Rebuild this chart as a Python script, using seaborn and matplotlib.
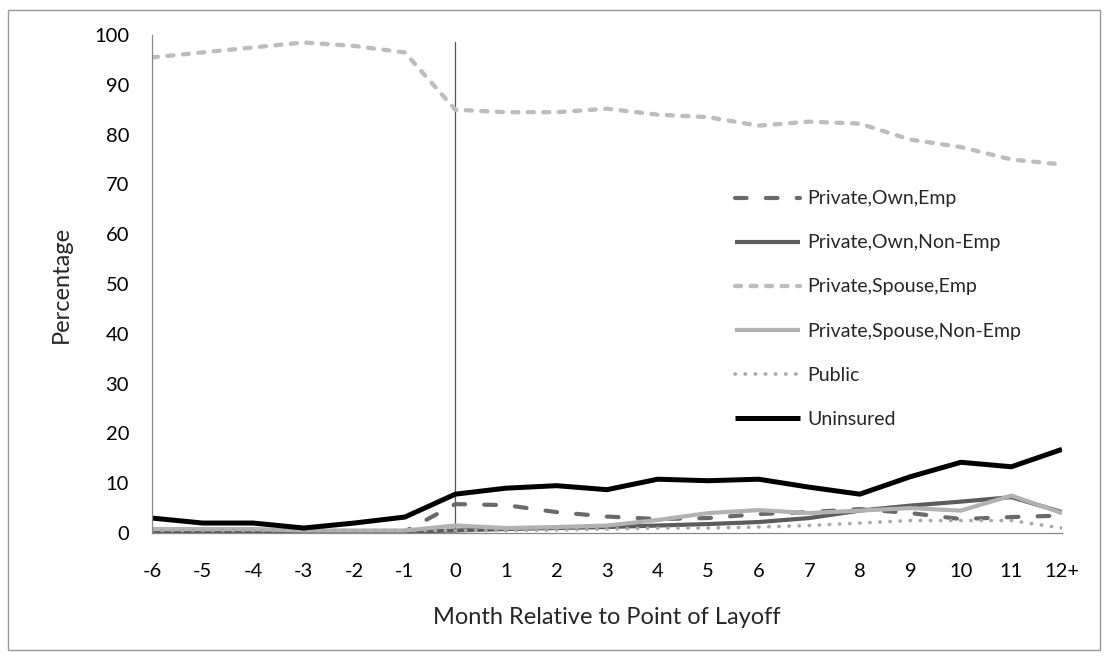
import matplotlib
matplotlib.use("Agg")
import matplotlib.pyplot as plt
import seaborn as sns
import pandas as pd
from matplotlib.patches import Rectangle

# Month labels and shares (%)
months = ["-6", "-5", "-4", "-3", "-2", "-1", "0", "1", "2", "3",
          "4", "5", "6", "7", "8", "9", "10", "11", "12+"]

own_emp = [0.2, 0.2, 0.2, 0.2, 0.3, 0.3, 5.8, 5.6, 4.2, 3.3,
           2.8, 3.0, 3.8, 4.2, 4.8, 4.0, 2.8, 3.2, 3.5]
own_nonemp = [0.3, 0.3, 0.3, 0.3, 0.3, 0.3, 0.5, 0.8, 1.0, 1.2,
              1.5, 1.8, 2.2, 3.0, 4.5, 5.5, 6.3, 7.2, 4.2]
spouse_emp = [95.5, 96.5, 97.5, 98.5, 97.8, 96.5, 85.0, 84.5, 84.5, 85.2,
              84.0, 83.5, 81.8, 82.6, 82.2, 79.0, 77.5, 75.0, 74.0]
spouse_nonemp = [0.8, 0.8, 0.8, 0.5, 0.5, 0.5, 1.5, 1.0, 1.2, 1.5,
                 2.6, 4.0, 4.6, 4.0, 4.5, 5.0, 4.5, 7.5, 4.0]
public = [0.5, 0.5, 0.5, 0.5, 0.5, 0.5, 0.5, 0.5, 0.6, 0.8,
          1.0, 1.0, 1.2, 1.5, 2.0, 2.5, 2.5, 2.5, 1.0]
uninsured = [3.0, 2.0, 2.0, 1.0, 2.0, 3.2, 7.8, 9.0, 9.5, 8.7,
             10.8, 10.5, 10.8, 9.2, 7.8, 11.3, 14.2, 13.3, 16.8]

series = [
    ("Private,Own,Emp", own_emp, "#6a6a6a", (0, (2.8, 4.6)), 3.0),
    ("Private,Own,Non-Emp", own_nonemp, "#5c5c5c", "-", 3.0),
    ("Private,Spouse,Emp", spouse_emp, "#bdbdbd", (0, (1.4, 2.2)), 3.1),
    ("Private,Spouse,Non-Emp", spouse_nonemp, "#b2b2b2", "-", 3.0),
    ("Public", public, "#a8a8a8", (0, (0.1, 2.7)), 2.6),
    ("Uninsured", uninsured, "#000000", "-", 3.6),
]

sns.set_style("white")
plt.rcParams["font.family"] = ["Lato", "DejaVu Sans"]

fig = plt.figure(figsize=(11.08, 6.57), dpi=100)
ax = fig.add_axes([152 / 1108, 1 - 533 / 657, 910 / 1108, 498 / 657])

pos = list(range(len(months)))
for name, vals, color, ls, lw in series:
    df = pd.DataFrame({"pos": pos, "val": vals})
    sns.lineplot(data=df, x="pos", y="val", ax=ax, color=color,
                 linestyle=ls, linewidth=lw, label=name,
                 dash_capstyle="round", solid_capstyle="butt")

# layoff marker
ax.plot([6, 6], [0, 98.6], color="#555555", linewidth=0.9, zorder=1)

ax.set_xlim(0, 18)
ax.set_ylim(0, 100)
ax.set_xticks(pos)
ax.set_xticklabels(months)
ax.set_yticks(range(0, 101, 10))
ax.tick_params(axis="both", labelsize=14.5, length=4.5, width=0.8,
               direction="out", colors="#888888", labelcolor="black")
ax.tick_params(axis="x", pad=17)
ax.tick_params(axis="y", pad=12)
for side in ["top", "right"]:
    ax.spines[side].set_visible(False)
for side in ["left", "bottom"]:
    ax.spines[side].set_color("#888888")
    ax.spines[side].set_linewidth(0.9)

ax.set_xlabel("Month Relative to Point of Layoff", fontsize=17)
ax.set_ylabel("Percentage", fontsize=17)
ax.xaxis.set_label_coords(0.5, (533 - 618) / 498)
ax.xaxis.label.set_va("center")
ax.yaxis.set_label_coords((61 - 152) / 910, 0.5)
ax.yaxis.label.set_va("center")

ax.legend(loc="center left", bbox_to_anchor=(735 / 1108, 1 - 309 / 657),
          bbox_transform=fig.transFigure, frameon=False, fontsize=14,
          handlelength=3.35, handletextpad=0.36, labelspacing=1.39,
          borderpad=0, borderaxespad=0)

# outer frame around the figure
fig.patches.append(Rectangle((8 / 1108, 7 / 657), 1092 / 1108, 640 / 657,
                             transform=fig.transFigure, fill=False,
                             edgecolor="#999999", linewidth=1.0))

fig.savefig("out.png", dpi=100)
